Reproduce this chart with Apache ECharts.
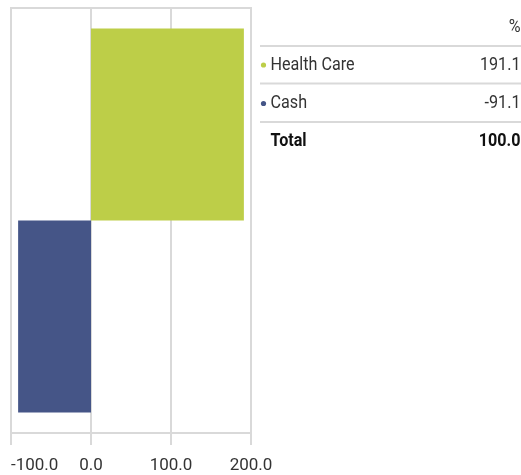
<!DOCTYPE html>
<html>
<head>
<meta charset="utf-8">
<script src="https://cdn.jsdelivr.net/npm/echarts@6/dist/echarts.min.js"></script>
<style>
html,body{margin:0;padding:0;background:#fff;}
#chart{width:521px;height:475px;}
</style>
</head>
<body>
<div id="chart"></div>
<script>
var categories = ['Health Care', 'Cash'];
var values = [191.1, -91.1];
var colors = ['#bdce48', '#455587'];
var totalLabel = 'Total';
var totalValue = 100.0;
var headerLabel = '%';
var axisMin = -100, axisMax = 200, axisInterval = 100;

var chart = echarts.init(document.getElementById('chart'), null, {renderer: 'canvas'});
var gridColor = '#d9d9d9';
var font = 'Roboto, "Noto Sans", sans-serif';

var series = categories.map(function (c, i) {
  return {
    name: c,
    type: 'bar',
    data: [values[i]],
    barGap: '0%',
    barCategoryGap: '9.6%',
    itemStyle: {color: colors[i]},
    silent: true
  };
});

var graphics = [];
var sx = 0.85;
function txt(x, y, text, align, bold, color) {
  graphics.push({
    type: 'text', x: x, y: y, scaleX: sx, silent: true,
    style: {
      text: text, x: 0, y: 0, align: align, verticalAlign: 'middle',
      font: (bold ? 'bold ' : '') + '19px ' + font, fill: color
    }
  });
}
function hline(y) {
  graphics.push({
    type: 'line', silent: true,
    shape: {x1: 260, y1: y, x2: 521, y2: y},
    style: {stroke: gridColor, lineWidth: 2}
  });
}
txt(520.5, 27, headerLabel, 'right', false, '#333');
hline(46);
var rowY = [65, 103.5];
categories.forEach(function (c, i) {
  graphics.push({
    type: 'circle', silent: true,
    shape: {cx: 263.5, cy: rowY[i], r: 2.6},
    style: {fill: colors[i]}
  });
  txt(270.5, rowY[i], c, 'left', false, '#333');
  txt(520.5, rowY[i], values[i].toFixed(1), 'right', false, '#333');
  hline(rowY[i] + 18.5);
});
txt(270.5, 141, totalLabel, 'left', true, '#111');
txt(520.5, 141, totalValue.toFixed(1), 'right', true, '#111');

chart.setOption({
  animation: false,
  grid: {
    left: 11, top: 8, width: 240, height: 425,
    show: true, borderColor: gridColor, borderWidth: 2, backgroundColor: 'transparent'
  },
  xAxis: {
    type: 'value', min: axisMin, max: axisMax, interval: axisInterval,
    axisLine: {show: true, onZero: false, lineStyle: {color: gridColor, width: 2}},
    axisTick: {show: true, length: 12, lineStyle: {color: gridColor, width: 2}},
    splitLine: {show: true, lineStyle: {color: gridColor, width: 2}},
    axisLabel: {
      show: true, margin: 24, color: '#333', fontSize: 17, fontFamily: font,
      alignMinLabel: 'left',
      formatter: function (v) { return v.toFixed(1); }
    }
  },
  yAxis: {
    type: 'category', data: ['x'],
    axisLine: {show: false}, axisTick: {show: false},
    axisLabel: {show: false}, splitLine: {show: false}
  },
  series: series,
  graphic: graphics
});
</script>
</body>
</html>
